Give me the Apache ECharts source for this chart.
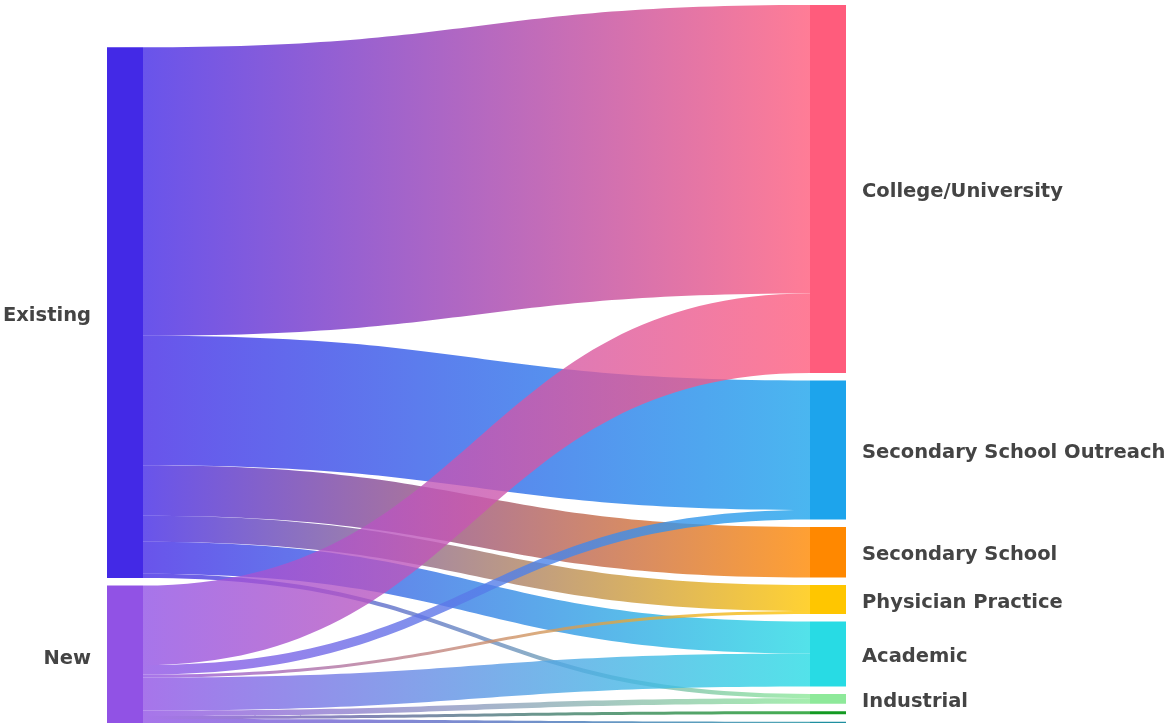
<!DOCTYPE html>
<html>
<head>
<meta charset="utf-8">
<script src="https://cdn.jsdelivr.net/npm/echarts@6/dist/echarts.min.js"></script>
<style>
html,body{margin:0;padding:0;background:#fff;}
#chart{width:1167px;height:723px;}
</style>
</head>
<body>
<div id="chart"></div>
<script>
// Source nodes (left column)
const sources = ['Existing', 'New'];
const sourceColors = ['#4329e6', '#9152e5'];
// Target nodes (right column)
const targets = ['College/University', 'Secondary School Outreach', 'Secondary School', 'Physician Practice', 'Academic', 'Industrial', 'Government', 'Other'];
const targetColors = ['#ff5c7c', '#1da4ec', '#ff8800', '#ffc600', '#28dbe4', '#8ee99a', '#139a22', '#1f8fa0'];
const targetLabelShown = [true, true, true, true, true, true, false, false];
// Flow values, one per target
const existingFlows = [288.5, 129.5, 50.5, 26, 32, 4.3, 0, 0];
const newFlows = [79.5, 9.5, 0, 3, 33, 5.5, 3, 8];
// Invisible spacer that keeps the left column lower, as in the reference
const spacerValue = 34.8;

const nodes = [];
nodes.push({
  name: '_spacer', value: spacerValue, depth: 0,
  itemStyle: { color: 'rgba(0,0,0,0)', borderWidth: 0 },
  label: { show: false }, emphasis: { disabled: true }, tooltip: { show: false }
});
sources.forEach((s, i) => nodes.push({
  name: s, depth: 0,
  itemStyle: { color: sourceColors[i] },
  label: { position: 'left' }
}));
targets.forEach((t, i) => nodes.push({
  name: t, depth: 1,
  itemStyle: { color: targetColors[i] },
  label: { show: targetLabelShown[i], position: 'right' }
}));

const links = [];
[existingFlows, newFlows].forEach((flows, si) => {
  flows.forEach((v, ti) => {
    if (v > 0) links.push({ source: sources[si], target: targets[ti], value: v });
  });
});

const chart = echarts.init(document.getElementById('chart'), null, { renderer: 'canvas' });
chart.setOption({
  animation: false,
  backgroundColor: '#ffffff',
  series: [{
    type: 'sankey',
    left: 107,
    right: 321,
    top: 5,
    bottom: -6.8,
    nodeWidth: 36,
    nodeGap: 7.5,
    layoutIterations: 0,
    draggable: false,
    data: nodes,
    links: links,
    itemStyle: { borderWidth: 0 },
    lineStyle: { color: 'gradient', opacity: 0.8, curveness: 0.5 },
    label: {
      color: '#444444',
      fontFamily: 'DejaVu Sans',
      fontWeight: 'bold',
      fontSize: 19.5,
      distance: 16,
      offset: [0, 3]
    },
    emphasis: { disabled: true }
  }]
});
</script>
</body>
</html>
